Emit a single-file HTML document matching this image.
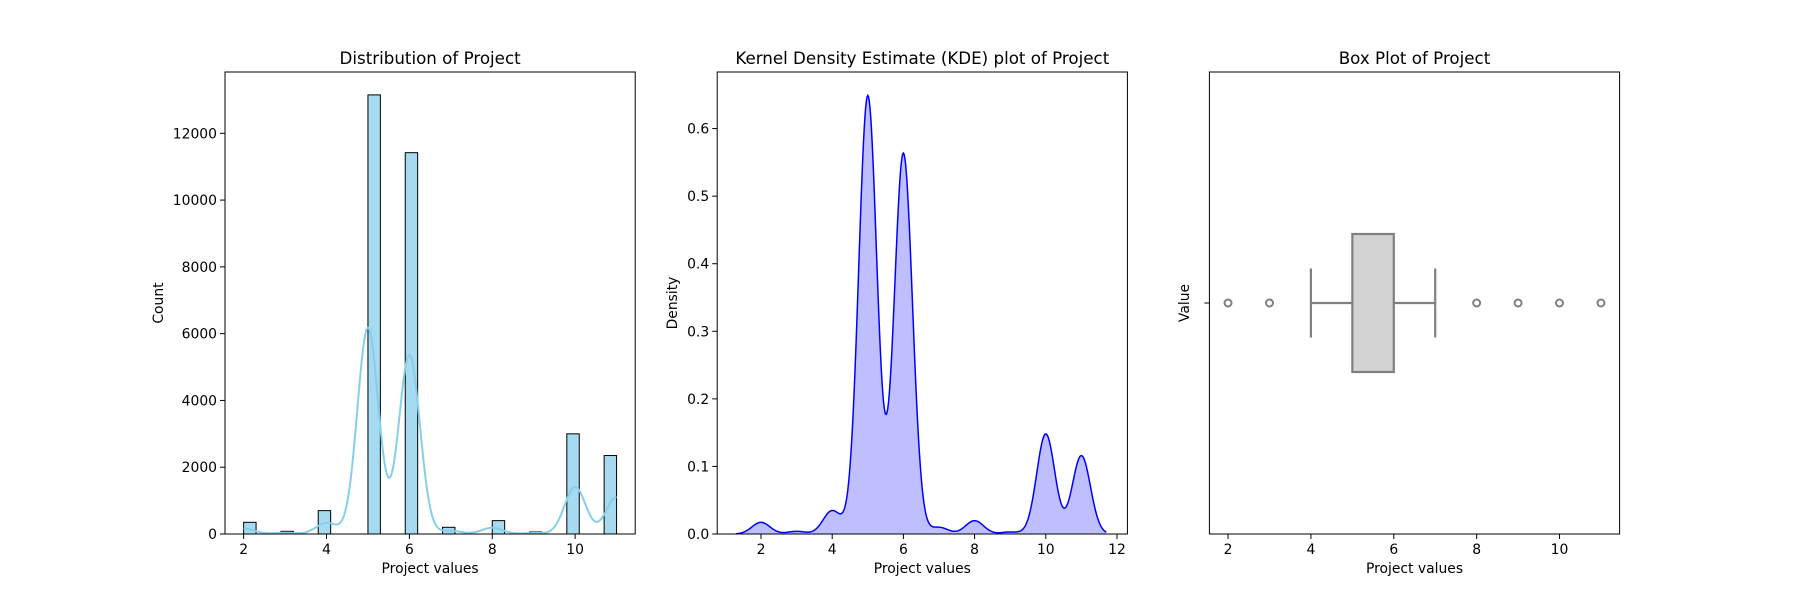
<!DOCTYPE html>
<html><head><meta charset="utf-8"><style>
body{margin:0;background:#fff;}
svg{font-family:"DejaVu Sans","Liberation Sans",sans-serif;}
</style></head><body>
<svg id="c" width="1800" height="600" xmlns="http://www.w3.org/2000/svg"></svg>
<script>
const values=[2,3,4,5,6,7,8,9,10,11];
const counts=[350,80,700,13150,11420,200,400,60,3000,2350];
const histYTicks=[0,2000,4000,6000,8000,10000,12000];
const kdeYTicks=[0,0.1,0.2,0.3,0.4,0.5,0.6];
const histXTicks=[2,4,6,8,10];
const kdeXTicks=[2,4,6,8,10,12];
const boxXTicks=[2,4,6,8,10];
const boxStats=[4,5,6,7];
const outliers=[2,3,8,9,10,11];

const svg=document.getElementById('c');
const NS='http://www.w3.org/2000/svg';
function mk(tag,attrs,parent,text){const e=document.createElementNS(NS,tag);for(const k in attrs)e.setAttribute(k,attrs[k]);if(text!==undefined)e.textContent=text;(parent||svg).appendChild(e);return e;}
const T=72,B=534;
const N=counts.reduce((a,b)=>a+b,0);
const h=0.255;
function pdf(x){let s=0;for(let i=0;i<values.length;i++){const z=(x-values[i])/h;s+=counts[i]*Math.exp(-0.5*z*z);}return s/(N*h*Math.sqrt(2*Math.PI));}

function frame(L,R,title,xl,name){
  const g=mk('g',{});
  
  
  const t=mk('text',{x:(L+R)/2,y:64,'text-anchor':'middle','font-size':'16.7'},g,title);
  
  const x=mk('text',{x:(L+R)/2,y:573,'text-anchor':'middle','font-size':'13.9'},g,xl);
  
  return g;
}
function xticks(g,ticks,sx){ticks.forEach(v=>{const X=sx(v);mk('line',{x1:X,x2:X,y1:B,y2:B+5,stroke:'#000'},g);const t=mk('text',{x:X,y:B+20,'text-anchor':'middle','font-size':'13.9'},g,String(v));});}
function yticks(g,ticks,sy,L,fmt){ticks.forEach(v=>{const Y=sy(v);mk('line',{x1:L-5,x2:L,y1:Y,y2:Y,stroke:'#000'},g);const t=mk('text',{x:L-8,y:Y+5,'text-anchor':'end','font-size':'13.9'},g,fmt(v));});}
function ylabel(g,x,txt){const y=(T+B)/2;const t=mk('text',{x:x,y:y,'text-anchor':'middle','font-size':'13.9',transform:`rotate(-90 ${x} ${y})`},g,txt);}

const W=410.2, gap=82;
const L1=225, L2=L1+W+gap, L3=L2+W+gap;
const sxW=L=>v=>L+(v-1.55)*(W/9.9);

// Panel 1 histogram
(function(){
  const L=L1,R=L1+W;
  const sx=sxW(L), sy=v=>B-v*(400.7/12000);
  const g=frame(L,R,'Distribution of Project','Project values','histogram-panel');
  const bw=0.3;
  values.forEach((v,i)=>{
    const k=Math.min(29,Math.floor((v-2)/bw+1e-9));
    const x0=2+k*bw;
    const r=mk('rect',{x:sx(x0),y:sy(counts[i]),width:sx(x0+bw)-sx(x0),height:B-sy(counts[i]),fill:'rgba(135,206,235,0.75)',stroke:'#000','stroke-width':1},g);
    
  });
  let d='';for(let x=2;x<=11.0001;x+=0.02){d+=(d?'L':'M')+sx(x).toFixed(2)+','+sy(N*bw*pdf(x)).toFixed(2);}
  const p=mk('path',{d:d,fill:'none',stroke:'#87ceeb','stroke-width':2},g);
  
  mk('rect',{x:L,y:T,width:R-L,height:B-T,fill:'none',stroke:'#000','stroke-width':1},g);
  xticks(g,histXTicks,sx);yticks(g,histYTicks,sy,L,v=>String(v));ylabel(g,163,'Count');
})();

// Panel 2 KDE
(function(){
  const L=L2,R=L2+W;
  const sx=v=>761+(v-2)*35.6, sy=v=>B-v*675.7;
  const g=frame(L,R,'Kernel Density Estimate (KDE) plot of Project','Project values','kde-panel');
  let d='';const x0=1.3,x1=11.7;
  for(let x=x0;x<=x1+1e-6;x+=0.02){d+=(d?'L':'M')+sx(x).toFixed(2)+','+sy(pdf(x)).toFixed(2);}
  const f=mk('path',{d:d+`L${sx(x1)},${B}L${sx(x0)},${B}Z`,fill:'rgba(0,0,255,0.25)',stroke:'none'},g);
  
  const p=mk('path',{d:d,fill:'none',stroke:'#0000ff','stroke-width':1.5},g);
  
  mk('rect',{x:L,y:T,width:R-L,height:B-T,fill:'none',stroke:'#000','stroke-width':1},g);
  xticks(g,kdeXTicks,sx);yticks(g,kdeYTicks,sy,L,v=>v.toFixed(1));ylabel(g,677,'Density');
})();

// Panel 3 box
(function(){
  const L=L3,R=L3+W;
  const sx=sxW(L);
  const g=frame(L,R,'Box Plot of Project','Project values','box-panel');
  const cy=(T+B)/2,hh=69;
  const c='#808080';
  mk('line',{x1:sx(boxStats[0]),x2:sx(boxStats[1]),y1:cy,y2:cy,stroke:c,'stroke-width':2.2},g);
  mk('line',{x1:sx(boxStats[2]),x2:sx(boxStats[3]),y1:cy,y2:cy,stroke:c,'stroke-width':2.2},g);
  mk('line',{x1:sx(boxStats[0]),x2:sx(boxStats[0]),y1:cy-hh/2,y2:cy+hh/2,stroke:c,'stroke-width':2.2},g);
  mk('line',{x1:sx(boxStats[3]),x2:sx(boxStats[3]),y1:cy-hh/2,y2:cy+hh/2,stroke:c,'stroke-width':2.2},g);
  const b=mk('rect',{x:sx(boxStats[1]),y:cy-hh,width:sx(boxStats[2])-sx(boxStats[1]),height:2*hh,fill:'#d3d3d3',stroke:c,'stroke-width':2.2},g);
  
  outliers.forEach(v=>{const o=mk('circle',{cx:sx(v),cy:cy,r:3.5,fill:'none',stroke:c,'stroke-width':2},g);});
  mk('rect',{x:L,y:T,width:R-L,height:B-T,fill:'none',stroke:'#000','stroke-width':1},g);
  xticks(g,boxXTicks,sx);
  mk('line',{x1:L-5,x2:L,y1:cy,y2:cy,stroke:'#000'},g);
  ylabel(g,1189,'Value');
})();
</script>
</body></html>
